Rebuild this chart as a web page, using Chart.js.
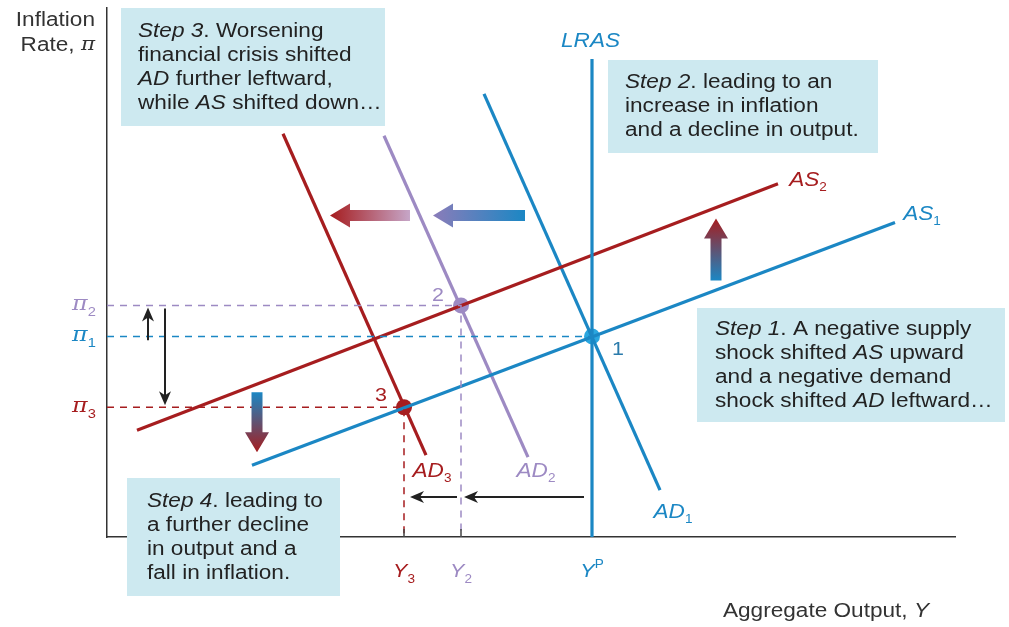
<!DOCTYPE html>
<html>
<head>
<meta charset="utf-8">
<script src="https://cdn.jsdelivr.net/npm/chart.js@4.4.0/dist/chart.umd.min.js"></script>
<style>
  html, body { margin: 0; padding: 0; background: #fff; }
  canvas { display: block; }
</style>
</head>
<body>
<canvas id="adas" width="1009" height="627"></canvas>
<script>
// ---- diagram data (x = aggregate output, y = inflation, arbitrary units) ----
const lras = [{x: 485, y: 479}, {x: 485, y: 0}];
const as1  = [{x: 145, y: 72},  {x: 788, y: 315}];
const as2  = [{x: 30,  y: 107}, {x: 671, y: 354}];
const ad1  = [{x: 377, y: 444}, {x: 553, y: 47}];
const ad2  = [{x: 277, y: 402}, {x: 421, y: 80}];
const ad3  = [{x: 176, y: 404}, {x: 319, y: 82}];

// equilibrium points 1, 2, 3
const eqX = [485, 354, 297];
const eqY = [201, 232, 130];
const eqNames = ["1", "2", "3"];

// tick labels on the axes
const xTickValues = [297, 354, 485];
const xTickMain = ["Y", "Y", "Y"];
const xTickSub = ["3", "2", "P"];
const yTickValues = [232, 201, 130];
const yTickSub = ["2", "1", "3"];

// shift arrows (from -> to)
const shiftArrows = [
  [418, 322, 326, 322],   // AD1 -> AD2
  [303, 322, 223, 322],   // AD2 -> AD3
  [609, 257, 609, 319],   // AS1 -> AS2
  [150, 145, 150, 85]     // AS2 -> AS1 (down)
];
const thinArrows = [
  [41, 197, 41, 230],
  [58, 229, 58, 132],
  [477, 40, 357, 40],
  [350, 40, 303, 40]
];

const BLUE = "#1b87c4";
const RED = "#a61d1f";
const PURPLE = "#9d8ac3";
const BOX = "#cde9f0";
const INK = "#222";

const tickColors = [RED, PURPLE, BLUE];
const yTickColors = [PURPLE, BLUE, RED];

function line(data, color, width, dash) {
  return {
    data: data, showLine: true, borderColor: color, borderWidth: width || 3,
    borderDash: dash || [], pointRadius: 0, fill: false, tension: 0
  };
}

// dashed guide lines built from the equilibrium points
const pi2Guide = [{x: 0, y: eqY[1]}, {x: eqX[1], y: eqY[1]}, {x: eqX[1], y: 0}];
const pi1Guide = [{x: 0, y: eqY[0]}, {x: eqX[0], y: eqY[0]}];
const pi3Guide = [{x: 0, y: eqY[2]}, {x: eqX[2], y: eqY[2]}, {x: eqX[2], y: 0}];

// text helpers (source art is slightly stretched horizontally)
const SX = 1.13;
const SANS = "'Liberation Sans', Arial, sans-serif";
const SERIF = "'DejaVu Serif', 'Liberation Serif', serif";
function richText(ctx, str, x, y, size, color, family) {
  const parts = str.split("*");
  ctx.save();
  ctx.translate(x, y);
  ctx.scale(SX, 1);
  ctx.fillStyle = color;
  ctx.textBaseline = "middle";
  ctx.textAlign = "left";
  let off = 0;
  parts.forEach((p, i) => {
    ctx.font = (i % 2 ? "italic " : "") + size + "px " + (family || SANS);
    ctx.fillText(p, off, 0);
    off += ctx.measureText(p).width;
  });
  ctx.restore();
}
function textWidth(ctx, str, size, italic, family) {
  ctx.save();
  ctx.font = (italic ? "italic " : "") + size + "px " + (family || SANS);
  const w = ctx.measureText(str).width * SX;
  ctx.restore();
  return w;
}
// main text with a sub/superscript
function subLabel(ctx, main, sub, cx, cy, color, size, sup, family) {
  const mw = textWidth(ctx, main, size, true, family);
  const ss = Math.round(size * 0.62);
  const sw = textWidth(ctx, sub, ss, false);
  const x = cx - (mw + sw) / 2;
  richText(ctx, "*" + main + "*", x, cy, size, color, family);
  richText(ctx, sub, x + mw, cy + (sup ? -7 : 8), ss, color);
}

function blockArrow(ctx, x1, y1, x2, y2, cTail, cHead) {
  const len = Math.hypot(x2 - x1, y2 - y1);
  const ang = Math.atan2(y2 - y1, x2 - x1);
  ctx.save();
  ctx.translate(x1, y1);
  ctx.rotate(ang);
  const g = ctx.createLinearGradient(0, 0, len, 0);
  g.addColorStop(0, cTail);
  g.addColorStop(1, cHead);
  ctx.fillStyle = g;
  const head = 20, hw = 12, sw = 5.5;
  ctx.beginPath();
  ctx.moveTo(0, -sw);
  ctx.lineTo(len - head, -sw);
  ctx.lineTo(len - head, -hw);
  ctx.lineTo(len, 0);
  ctx.lineTo(len - head, hw);
  ctx.lineTo(len - head, sw);
  ctx.lineTo(0, sw);
  ctx.closePath();
  ctx.fill();
  ctx.restore();
}

function thinArrow(ctx, x1, y1, x2, y2) {
  const ang = Math.atan2(y2 - y1, x2 - x1);
  const len = Math.hypot(x2 - x1, y2 - y1);
  ctx.save();
  ctx.translate(x1, y1);
  ctx.rotate(ang);
  ctx.strokeStyle = INK;
  ctx.fillStyle = INK;
  ctx.lineWidth = 2;
  ctx.beginPath();
  ctx.moveTo(0, 0);
  ctx.lineTo(len - 8, 0);
  ctx.stroke();
  ctx.beginPath();
  ctx.moveTo(len, 0);
  ctx.lineTo(len - 14, -6);
  ctx.lineTo(len - 10, 0);
  ctx.lineTo(len - 14, 6);
  ctx.closePath();
  ctx.fill();
  ctx.restore();
}

const boxes = [
  {x: 121, y: 8, w: 264, h: 118, tx: 138, lines: ["*Step 3*. Worsening", "financial crisis shifted", "*AD* further leftward,", "while *AS* shifted down…"]},
  {x: 608, y: 60, w: 270, h: 93, tx: 625, lines: ["*Step 2*. leading to an", "increase in inflation", "and a decline in output."]},
  {x: 697, y: 308, w: 308, h: 114, tx: 715, lines: ["*Step 1*. A negative supply", "shock shifted *AS* upward", "and a negative demand", "shock shifted *AD* leftward…"]},
  {x: 127, y: 478, w: 213, h: 118, tx: 147, lines: ["*Step 4*. leading to", "a further decline", "in output and a", "fall in inflation."]}
];

const FS = 20;

const annotate = {
  id: "annotate",
  afterDatasetsDraw(chart) {
    const ctx = chart.ctx;
    const xs = chart.scales.x, ys = chart.scales.y;
    const px = v => xs.getPixelForValue(v);
    const py = v => ys.getPixelForValue(v);

    // small dark ticks at Y3 and Y2
    ctx.save();
    ctx.strokeStyle = "#444";
    ctx.lineWidth = 1.5;
    [xTickValues[0], xTickValues[1]].forEach(v => {
      ctx.beginPath();
      ctx.moveTo(px(v), py(0));
      ctx.lineTo(px(v), py(0) - 8);
      ctx.stroke();
    });
    ctx.restore();

    // shift arrows
    const grads = [[BLUE, "#8b7cb9"], ["#c6a6c8", RED], [BLUE, RED], [BLUE, RED]];
    shiftArrows.forEach((a, i) => blockArrow(ctx, px(a[0]), py(a[1]), px(a[2]), py(a[3]), grads[i][0], grads[i][1]));
    thinArrows.forEach(a => thinArrow(ctx, px(a[0]), py(a[1]), px(a[2]), py(a[3])));

    // equilibrium labels
    const nameOff = [[20, 13], [-29, -10], [-29, -11]];
    const nameCol = ["#2b7bab", PURPLE, RED];
    eqNames.forEach((n, i) => richText(ctx, n, px(eqX[i]) + nameOff[i][0], py(eqY[i]) + nameOff[i][1], 19, nameCol[i]));

    // curve labels
    richText(ctx, "*LRAS*", 561, 41, FS, BLUE);
    subLabel(ctx, "AS", "2", 808, 180, RED, FS);
    subLabel(ctx, "AS", "1", 922, 214, BLUE, FS);
    subLabel(ctx, "AD", "3", 432, 471, RED, FS);
    subLabel(ctx, "AD", "2", 536, 471, PURPLE, FS);
    subLabel(ctx, "AD", "1", 673, 512, BLUE, FS);

    // axis tick labels
    xTickValues.forEach((v, i) => {
      subLabel(ctx, xTickMain[i], xTickSub[i], px(v), 572, tickColors[i], 19, i === 2);
    });
    yTickValues.forEach((v, i) => {
      subLabel(ctx, "π", yTickSub[i], 84, py(v) - 1, yTickColors[i], 21, false, SERIF);
    });

    // axis titles
    const w1 = textWidth(ctx, "Inflation", FS, false);
    richText(ctx, "Inflation", 95 - w1, 20, FS, "#333");
    const wp = textWidth(ctx, "π", 19, true, SERIF);
    const w2 = textWidth(ctx, "Rate, ", FS, false) + wp;
    richText(ctx, "Rate, ", 95 - w2, 45, FS, "#333");
    richText(ctx, "*π*", 95 - wp, 45, 19, "#333", SERIF);
    const w3 = textWidth(ctx, "Aggregate Output, ", FS, false) + textWidth(ctx, "Y", FS, true);
    richText(ctx, "Aggregate Output, *Y*", 929 - w3, 611, FS, "#333");
  },
  afterDraw(chart) {
    const ctx = chart.ctx;
    boxes.forEach(b => {
      ctx.save();
      ctx.fillStyle = BOX;
      ctx.fillRect(b.x, b.y, b.w, b.h);
      ctx.restore();
      const lh = b.lines.length === 3 ? 24 : 24;
      const top = b.y + b.h / 2 - (b.lines.length - 1) * lh / 2;
      b.lines.forEach((l, i) => richText(ctx, l, b.tx, top + i * lh, FS, INK));
    });
  }
};

new Chart(document.getElementById("adas"), {
  type: "scatter",
  data: {
    datasets: [
      line(pi2Guide, PURPLE, 1.5, [7, 6]),
      line(pi1Guide, BLUE, 1.5, [7, 6]),
      line(pi3Guide, RED, 1.5, [7, 6]),
      line(lras, BLUE, 3.2),
      line(as1, BLUE, 3.2),
      line(as2, RED, 3.2),
      line(ad1, BLUE, 3.2),
      line(ad2, PURPLE, 3.2),
      line(ad3, RED, 3.2),
      {
        data: eqX.map((x, i) => ({x: x, y: eqY[i]})),
        showLine: false,
        pointRadius: [8, 8, 8],
        pointBackgroundColor: ["#2aa6df", PURPLE, RED],
        pointBorderWidth: 0
      }
    ]
  },
  options: {
    responsive: false,
    animation: false,
    layout: { padding: { left: 107, right: 54, top: 7, bottom: 90 } },
    plugins: { legend: { display: false }, tooltip: { enabled: false } },
    scales: {
      x: {
        type: "linear", min: 0, max: 848,
        ticks: { display: false },
        grid: { display: false, drawTicks: false },
        border: { display: true, color: "#333", width: 1.5 }
      },
      y: {
        type: "linear", min: 0, max: 530,
        ticks: { display: false },
        grid: { display: false, drawTicks: false },
        border: { display: true, color: "#333", width: 1.5 }
      }
    }
  },
  plugins: [annotate]
});
</script>
</body>
</html>
